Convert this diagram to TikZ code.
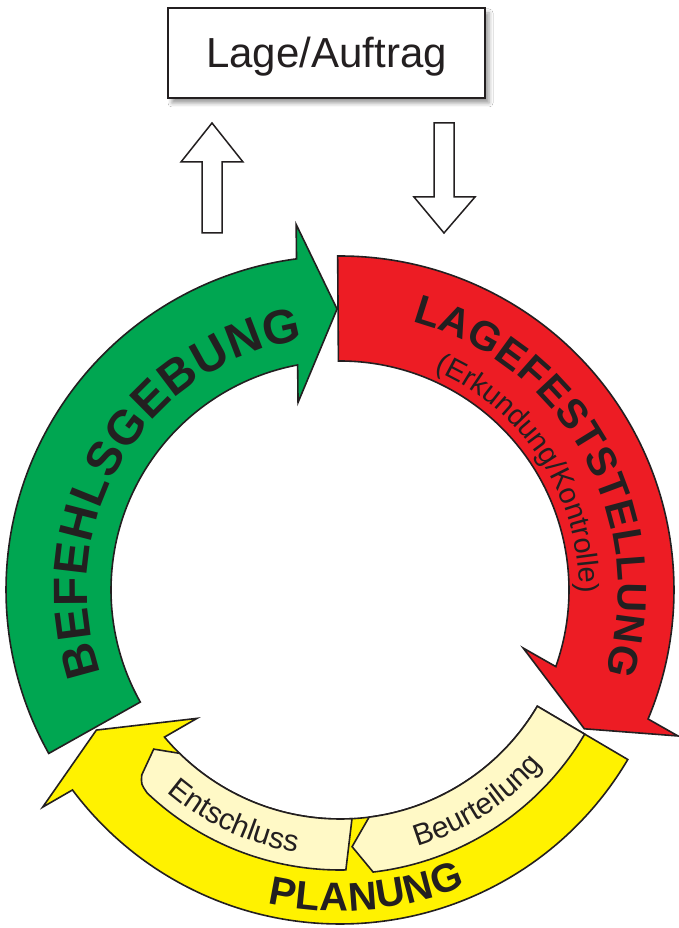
\documentclass[tikz,border=0pt]{standalone}
\usepackage{fontspec}
\setmainfont{Liberation Sans}
\usetikzlibrary{decorations.text,shadows.blur}
\definecolor{ink}{HTML}{231F20}
\definecolor{cgreen}{HTML}{00A651}
\definecolor{cred}{HTML}{ED1C24}
\definecolor{cyellow}{HTML}{FFF200}
\definecolor{cpale}{HTML}{FFF9C6}
\newcommand\fBig{\fontsize{48}{48}\selectfont\bfseries\color{ink}}
\newcommand\fMid{\fontsize{41}{41}\selectfont\bfseries\color{ink}}
\newcommand\fPlan{\fontsize{40}{40}\selectfont\bfseries\color{ink}}
\newcommand\fSmall{\fontsize{29}{29}\selectfont\color{ink}}
\newcommand\fPale{\fontsize{30}{30}\selectfont\color{ink}}
\begin{document}
\begin{tikzpicture}[x=1pt,y=1pt,
  outl/.style={draw=ink,line width=1.6pt,line join=miter,miter limit=10},
  hollow/.style={draw=ink,fill=white,line width=1.5pt,line join=miter},
  boxstyle/.style={draw=ink,fill=white,line width=1.5pt,minimum width=317pt,minimum height=90pt,inner sep=0pt,
    text height=30pt,text depth=0pt,font=\fontsize{42}{42}\selectfont,text=ink,
    blur shadow={shadow xshift=4pt,shadow yshift=-5pt,shadow blur radius=4pt}}]
\fill[white] (0,0) rectangle (679,928);
\useasboundingbox (0,0) rectangle (679,928);

% Top box
\node[boxstyle] (lage) at (326.5,875) {Lage/Auftrag};

% hollow arrows
\draw[hollow] (202,695) -- (202,766) -- (181,766) -- (212,805) -- (243,766) -- (222,766) -- (222,695) -- cycle;
\draw[hollow] (434,805) -- (454,805) -- (454,731) -- (475,731) -- (444,695) -- (414,731) -- (434,731) -- cycle;

\begin{scope}[shift={(340,338)}]
% yellow arrow (Planung)
\draw[outl,fill=cyellow] (329.5:334) arc[start angle=329.5,end angle=216.78,radius=334]
  -- (216.14:368.2) -- (209.9:281) -- (221.91:192.2) -- (219.96:229)
  arc[start angle=219.96,end angle=329.5,radius=229] -- cycle;
% pale segments
\draw[outl,fill=cpale] (271.2:280) -- (273:229) arc[start angle=273,end angle=225.5,radius=229]
  -- (220.5:245) -- (223:271) .. controls (224.3:278) .. (226.5:280)
  arc[start angle=226.5,end angle=271.2,radius=280] -- cycle;
\draw[outl,fill=cpale] (277.3:229) arc[start angle=277.3,end angle=329.5,radius=229]
  -- (329.5:284) arc[start angle=329.5,end angle=276.7,radius=284] -- (272.7:257) -- cycle;
% green arrow (Befehlsgebung)
\draw[outl,fill=cgreen] (209.3:334) arc[start angle=209.3,end angle=97.48,radius=334]
  -- (96.84:368.2) -- (90.6:281) -- (102.61:192.2) -- (100.66:229)
  arc[start angle=100.66,end angle=209.3,radius=229] -- cycle;
% red arrow (Lagefeststellung)
\draw[outl,fill=cred] (90.4:334) arc[start angle=90.4,end angle=-22.72,radius=334]
  -- (-23.36:368.2) -- (-29.6:281) -- (-17.59:192.2) -- (-19.54:229)
  arc[start angle=-19.54,end angle=90.4,radius=229] -- cycle;

% texts
\path[decorate,decoration={text along path,text align={fit to path},text={|\fBig|BEFEHLSGEBUNG}}]
  (199.2:253) arc[start angle=199.2,end angle=98.4,radius=253];
\path[decorate,decoration={text along path,text align={fit to path},text={|\fMid|LAGEFESTSTELLUNG}}]
  (75:278) arc[start angle=75,end angle=-17.5,radius=278];
\path[decorate,decoration={text along path,text align=center,text={|\fSmall|(Erkundung/Kontrolle)}}]
  (69:239) arc[start angle=69,end angle=-3,radius=239];
\path[decorate,decoration={text along path,text align={fit to path},text={|\fPlan|PLANUNG}}]
  (257:321) arc[start angle=257,end angle=293,radius=321];
\path[decorate,decoration={text along path,text align=center,text={|\fPale|Entschluss}}]
  (224:266) arc[start angle=224,end angle=266,radius=266];
\path[decorate,decoration={text along path,text align=center,text={|\fPale|Beurteilung}}]
  (285:268) arc[start angle=285,end angle=321,radius=268];
\end{scope}
\end{tikzpicture}
\end{document}
